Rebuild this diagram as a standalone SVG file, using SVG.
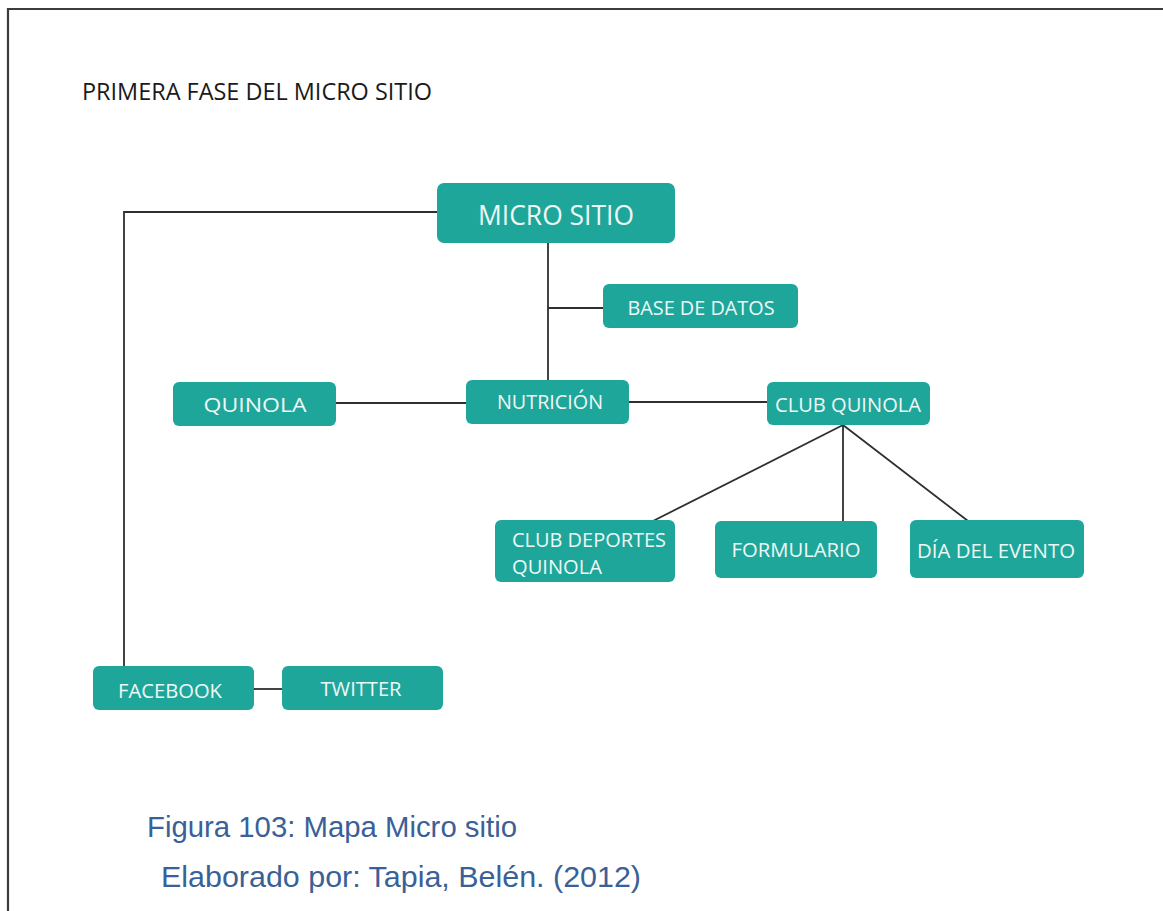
<svg xmlns="http://www.w3.org/2000/svg" width="1163" height="911" viewBox="0 0 1163 911">
  <style>
    .box { fill: #1fa69b; }
    .lbl { font-family: "Open Sans", "Liberation Sans", sans-serif; fill: #eef8f6; font-size: 20px; }
    .big { font-size: 28px; }
    .edge { stroke: #2f2f2f; stroke-width: 1.8; fill: none; }
    .title { font-family: "Open Sans", "Liberation Sans", sans-serif; fill: #1a1a1a; font-size: 23.5px; }
    .cap { font-family: "Liberation Sans", Arial, sans-serif; fill: #3a6197; font-size: 30px; }
  </style>

  <rect width="1163" height="911" fill="#ffffff"/>
  <!-- page frame -->
  <path d="M8,911 V9 H1163" stroke="#3c3c3c" stroke-width="2.2" fill="none"/>

  <text class="title" x="82" y="100" textLength="350" lengthAdjust="spacingAndGlyphs">PRIMERA FASE DEL MICRO SITIO</text>

  <g id="connectors">
    <path class="edge" d="M437,212 H124 V666"/>
    <path class="edge" d="M548,243 V380"/>
    <path class="edge" d="M548,308 H603"/>
    <path class="edge" d="M336,403 H466"/>
    <path class="edge" d="M629,402 H767"/>
    <path class="edge" d="M843,425 L653,521"/>
    <path class="edge" d="M843,425 V521"/>
    <path class="edge" d="M843,425 L968,521"/>
    <path class="edge" d="M254,689 H282"/>
  </g>

  <g id="micro-sitio">
    <rect class="box" x="437" y="183" width="238" height="60" rx="7"/>
    <text class="lbl big" x="556" y="225" text-anchor="middle" textLength="156" lengthAdjust="spacingAndGlyphs">MICRO SITIO</text>
  </g>
  <g id="base-de-datos">
    <rect class="box" x="603" y="284" width="195" height="44" rx="6"/>
    <text class="lbl" x="701" y="315" text-anchor="middle" textLength="147" lengthAdjust="spacingAndGlyphs">BASE DE DATOS</text>
  </g>
  <g id="quinola">
    <rect class="box" x="173" y="382" width="163" height="44" rx="6"/>
    <text class="lbl" x="255" y="412" text-anchor="middle" textLength="103" lengthAdjust="spacingAndGlyphs">QUINOLA</text>
  </g>
  <g id="nutricion">
    <rect class="box" x="466" y="380" width="163" height="44" rx="6"/>
    <text class="lbl" x="550" y="409" text-anchor="middle" textLength="106" lengthAdjust="spacingAndGlyphs">NUTRICIÓN</text>
  </g>
  <g id="club-quinola">
    <rect class="box" x="767" y="382" width="163" height="43" rx="6"/>
    <text class="lbl" x="848" y="412" text-anchor="middle" textLength="146" lengthAdjust="spacingAndGlyphs">CLUB QUINOLA</text>
  </g>
  <g id="club-deportes-quinola">
    <rect class="box" x="495" y="520" width="180" height="62" rx="6"/>
    <text class="lbl" x="512" y="547" textLength="154" lengthAdjust="spacingAndGlyphs">CLUB DEPORTES</text>
    <text class="lbl" x="512" y="574" textLength="90" lengthAdjust="spacingAndGlyphs">QUINOLA</text>
  </g>
  <g id="formulario">
    <rect class="box" x="715" y="521" width="162" height="57" rx="6"/>
    <text class="lbl" x="796" y="557" text-anchor="middle" textLength="129" lengthAdjust="spacingAndGlyphs">FORMULARIO</text>
  </g>
  <g id="dia-del-evento">
    <rect class="box" x="910" y="520" width="174" height="58" rx="6"/>
    <text class="lbl" x="996" y="558" text-anchor="middle" textLength="158" lengthAdjust="spacingAndGlyphs">DÍA DEL EVENTO</text>
  </g>
  <g id="facebook">
    <rect class="box" x="93" y="666" width="161" height="44" rx="6"/>
    <text class="lbl" x="170" y="698" text-anchor="middle" textLength="104" lengthAdjust="spacingAndGlyphs">FACEBOOK</text>
  </g>
  <g id="twitter">
    <rect class="box" x="282" y="666" width="161" height="44" rx="6"/>
    <text class="lbl" x="361" y="696" text-anchor="middle" textLength="81" lengthAdjust="spacingAndGlyphs">TWITTER</text>
  </g>

  <text class="cap" x="147" y="837" textLength="370" lengthAdjust="spacingAndGlyphs">Figura 103: Mapa Micro sitio</text>
  <text class="cap" x="161" y="887" textLength="480" lengthAdjust="spacingAndGlyphs">Elaborado por: Tapia, Belén. (2012)</text>
</svg>
